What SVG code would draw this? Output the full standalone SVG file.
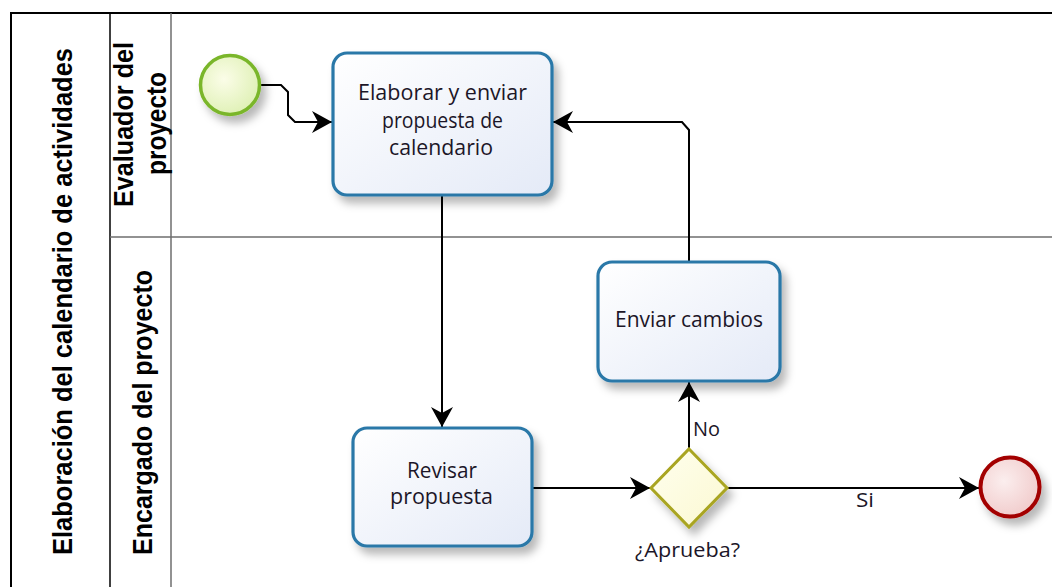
<svg xmlns="http://www.w3.org/2000/svg" width="1052" height="587" viewBox="0 0 1052 587">
<style>
.pool{fill:none;stroke:#000;stroke-width:2}
.lane{stroke:#6e6e6e;stroke-width:1.5;fill:none}
.lbl{font-family:"Liberation Sans",Arial,sans-serif;font-weight:bold;font-size:27px;fill:#000;text-anchor:middle}
.task{stroke:#2a78a8;stroke-width:3.2;fill:url(#gTask)}
.tt{font-family:"Open Sans","DejaVu Sans",sans-serif;font-size:21px;fill:#1c1628;text-anchor:middle}
.con{fill:none;stroke:#000;stroke-width:2}
.small{font-family:"Open Sans","DejaVu Sans",sans-serif;font-size:20px;fill:#1c1628}
</style>
<defs>
<linearGradient id="gTask" x1="0" y1="0" x2="1" y2="1"><stop offset="0" stop-color="#ffffff"/><stop offset="1" stop-color="#e4eaf7"/></linearGradient>
<radialGradient id="gStart" cx="0.4" cy="0.4" r="0.7"><stop offset="0" stop-color="#fbfde8"/><stop offset="1" stop-color="#dcefb0"/></radialGradient>
<radialGradient id="gEnd" cx="0.4" cy="0.4" r="0.7"><stop offset="0" stop-color="#fbeeee"/><stop offset="1" stop-color="#f0c8c8"/></radialGradient>
<linearGradient id="gGw" x1="0" y1="0" x2="1" y2="1"><stop offset="0" stop-color="#ffffee"/><stop offset="1" stop-color="#fbf8d2"/></linearGradient>
<filter id="sh" x="-20%" y="-20%" width="150%" height="150%"><feDropShadow dx="5" dy="7" stdDeviation="4" flood-color="#000" flood-opacity="0.28"/></filter>
<marker id="arr" markerUnits="userSpaceOnUse" markerWidth="22" markerHeight="22" viewBox="0 0 20 22" refX="20" refY="11" orient="auto"><path d="M0,0 L20,11 L0,22 L6,11 Z" fill="#000"/></marker>
</defs>

<g id="pool">
<path class="pool" d="M11,587 V13 H1052" stroke-width="2.5"/>
<line x1="110" y1="13" x2="110" y2="587" stroke="#000" stroke-width="1.5"/>
<line class="lane" x1="171" y1="13" x2="171" y2="587"/>
<line class="lane" x1="110" y1="237" x2="1052" y2="237"/>
<text class="lbl" transform="translate(72,301.5) rotate(-90)" textLength="507" lengthAdjust="spacingAndGlyphs">Elaboración del calendario de actividades</text>
</g>
<g id="lane-evaluador">
<text class="lbl" transform="translate(133,124.5) rotate(-90)" textLength="165" lengthAdjust="spacingAndGlyphs">Evaluador del</text>
<text class="lbl" transform="translate(166,123.5) rotate(-90)" textLength="103" lengthAdjust="spacingAndGlyphs">proyecto</text>
</g>
<g id="lane-encargado">
<text class="lbl" transform="translate(152,412.5) rotate(-90)" textLength="285" lengthAdjust="spacingAndGlyphs">Encargado del proyecto</text>
</g>

<g id="connectors">
<path class="con" d="M261,85 H281 L288,92 V115 L295,122 H332" marker-end="url(#arr)"/>
<path class="con" d="M689,261 V130 L682,122 H553" marker-end="url(#arr)"/>
<path class="con" d="M442,196 V427" marker-end="url(#arr)"/>
<path class="con" d="M533,488 H650" marker-end="url(#arr)"/>
<path class="con" d="M689,448 V382" marker-end="url(#arr)"/>
<path class="con" d="M728,488 H979" marker-end="url(#arr)"/>
<text class="small" x="693" y="436" textLength="27" lengthAdjust="spacingAndGlyphs">No</text>
<text class="small" x="856" y="507" textLength="18" lengthAdjust="spacingAndGlyphs">Si</text>
</g>

<g id="start">
<circle cx="230" cy="85" r="29.5" fill="url(#gStart)" stroke="#7ab62a" stroke-width="3.5" filter="url(#sh)"/>
</g>
<g id="task-elaborar">
<rect class="task" x="333" y="53" width="219" height="142" rx="14" filter="url(#sh)"/>
<text class="tt" x="442.5" y="100" textLength="169" lengthAdjust="spacingAndGlyphs">Elaborar y enviar</text>
<text class="tt" x="442.5" y="128" textLength="121" lengthAdjust="spacingAndGlyphs">propuesta de</text>
<text class="tt" x="441" y="155" textLength="104" lengthAdjust="spacingAndGlyphs">calendario</text>
</g>
<g id="task-enviar">
<rect class="task" x="598" y="262" width="182" height="119" rx="14" filter="url(#sh)"/>
<text class="tt" x="689" y="327" textLength="148" lengthAdjust="spacingAndGlyphs">Enviar cambios</text>
</g>
<g id="task-revisar">
<rect class="task" x="353" y="428" width="179" height="118" rx="14" filter="url(#sh)"/>
<text class="tt" x="442" y="478" textLength="70" lengthAdjust="spacingAndGlyphs">Revisar</text>
<text class="tt" x="441.5" y="504" textLength="103" lengthAdjust="spacingAndGlyphs">propuesta</text>
</g>
<g id="gateway">
<path d="M689,449 L727,488 L689,527 L651,488 Z" fill="url(#gGw)" stroke="#a9a520" stroke-width="3" filter="url(#sh)"/>
<text class="small" x="687.5" y="557" text-anchor="middle" textLength="105" lengthAdjust="spacingAndGlyphs">¿Aprueba?</text>
</g>
<g id="end">
<circle cx="1010" cy="487" r="29.5" fill="url(#gEnd)" stroke="#a30000" stroke-width="4" filter="url(#sh)"/>
</g>
</svg>
